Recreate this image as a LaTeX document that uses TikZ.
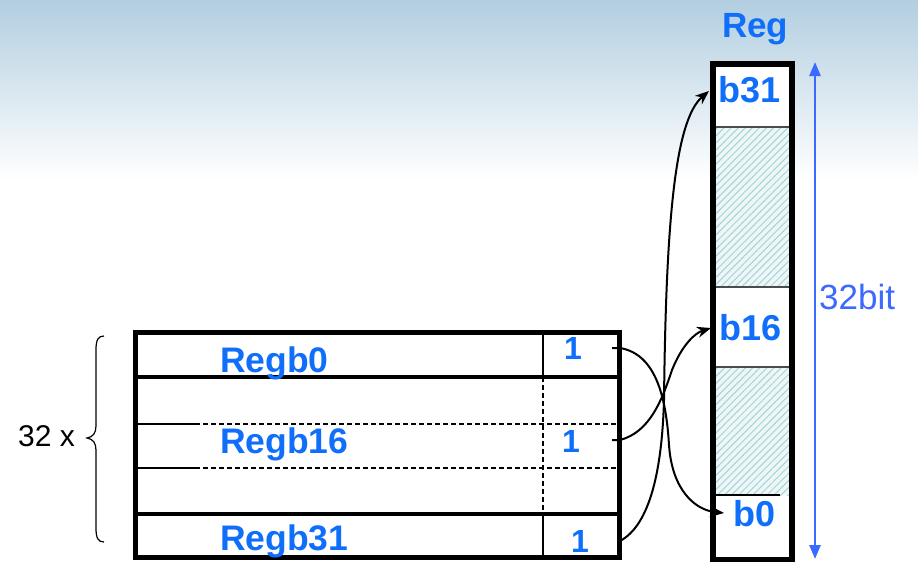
\documentclass[tikz,border=0pt]{standalone}
\usepackage{fontspec}
\setmainfont{Liberation Sans}
\usetikzlibrary{arrows.meta,patterns.meta}
\definecolor{lblue}{RGB}{15,110,250}
\definecolor{abl}{RGB}{60,105,255}
\definecolor{hatchc}{RGB}{165,212,214}
\definecolor{hatchbg}{RGB}{238,246,247}
\definecolor{bgtop}{RGB}{178,206,224}
\begin{document}
\begin{tikzpicture}[x=1pt,y=-1pt,
  lbl/.style={font=\bfseries\fontsize{35.5}{35.5}\selectfont, text=lblue, inner sep=0pt, anchor=base west},
  bitlbl/.style={font=\bfseries\fontsize{36}{36}\selectfont, text=lblue, inner sep=0pt, anchor=base west},
  onelbl/.style={font=\bfseries\fontsize{32}{32}\selectfont, text=lblue, inner sep=0pt, anchor=base west},
  thickline/.style={line width=3.5pt},
  dline/.style={line width=2.8pt, dash pattern=on 5pt off 3pt},
  conn/.style={line width=2pt, -{Stealth[length=14pt,width=11pt]}},
  hatchfill/.style={fill=hatchbg, postaction={pattern={Lines[angle=45,distance=5pt,line width=1pt]}, pattern color=hatchc}}
]
\useasboundingbox (0,0) rectangle (918,562);
\shade[top color=bgtop, bottom color=white] (0,0) rectangle (918,180);

% ---- table ----
\draw[thickline] (137,377) -- (618,377);
\draw[thickline] (137,514) -- (618,514);
\draw[line width=2.8pt] (137,424) -- (195,424);
\draw[line width=2.8pt] (137,468) -- (195,468);
\draw[dline] (195,424) -- (618,424);
\draw[dline] (195,468) -- (618,468);
\draw[line width=2.5pt] (543,330) -- (543,377);
\draw[line width=2.5pt] (543,514) -- (543,558);
\draw[dline, line width=2.2pt] (543,377) -- (543,514);
\draw[line width=5pt] (135,332) rectangle (619,557);

\node[lbl] (r0) at (220,372) {Regb0};
\node[lbl] (r16) at (220,453) {Regb16};
\node[lbl] (r31) at (220,550) {Regb31};
\node[onelbl] (o0) at (564,359) {1};
\node[onelbl] (o16) at (562,452) {1};
\node[onelbl] (o31) at (571,552) {1};

% brace
\draw[line width=1.2pt] (104,336) .. controls (98,336) and (96,340) .. (96,350) -- (96,426)
  .. controls (96,433) and (93,437) .. (87,438) .. controls (93,439) and (96,443) .. (96,450)
  -- (96,528) .. controls (96,538) and (98,542) .. (104,542);
\node[font=\fontsize{30}{30}\selectfont, inner sep=0pt, anchor=base west] (n32) at (18,446) {32 x};

% ---- register ----
\fill[white] (714,66) rectangle (790,557);
\path[hatchfill] (715,127) rectangle (790,287);
\path[hatchfill] (715,367) rectangle (790,495);
\draw[line width=1.2pt, black!70] (715,127) -- (790,127);
\draw[line width=1.2pt, black!70] (715,287) -- (790,287);
\draw[line width=1.2pt, black!70] (715,367) -- (790,367);
\draw[line width=2pt] (715,495) -- (780,495);
\draw[line width=6pt] (712.5,63.5) rectangle (791.5,559.5);

\node[bitlbl] (b31) at (718,102) {b31};
\node[bitlbl] (b16) at (719,340) {b16};
\node[bitlbl] (b0) at (733,526) {b0};
\node[font=\bfseries\fontsize{35}{35}\selectfont, text=lblue, inner sep=0pt, anchor=base west] (reg) at (722,37) {Reg};

% 32bit arrow
\coordinate (ta) at (815,62);
\coordinate (tb) at (815,559);
\draw[abl, line width=2.5pt, {Triangle[length=14pt,width=11pt]}-{Triangle[length=14pt,width=11pt]}] (ta) -- (tb);
\node[font=\fontsize{35}{35}\selectfont, text=abl, inner sep=0pt, anchor=base west] (bits) at (819,309) {32bit};

% connectors
\coordinate (s0) at (612,348);
\coordinate (s16) at (612,440);
\coordinate (s31) at (620,541);
\coordinate (t0) at (724,513);
\coordinate (t16) at (711,328);
\coordinate (t31) at (709,91);
\draw[conn] (s0) -- (620,348) .. controls (655,354) and (666,395) .. (669,445)
  .. controls (672,490) and (695,510) .. (t0);
\draw[conn] (s16) -- (620,440) .. controls (650,432) and (662,400) .. (672,370)
  .. controls (682,345) and (695,333) .. (t16);
\draw[conn] (s31) .. controls (650,525) and (662,470) .. (664,400)
  .. controls (666,220) and (675,120) .. (t31);
\end{tikzpicture}
\end{document}
